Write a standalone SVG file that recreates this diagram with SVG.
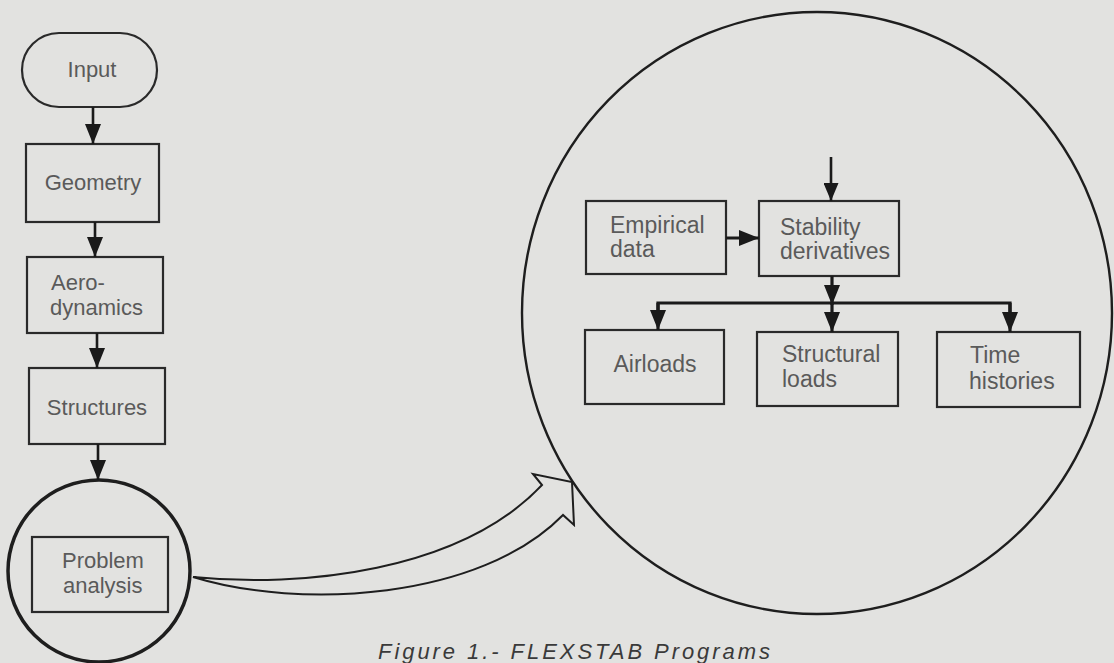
<svg xmlns="http://www.w3.org/2000/svg" width="1114" height="663" viewBox="0 0 1114 663">
<defs>
<marker id="ah" markerWidth="20" markerHeight="16" refX="20" refY="8" orient="auto" markerUnits="userSpaceOnUse"><path d="M0,0 L20,8 L0,16 Z" fill="#1a1a1a"/></marker>
<marker id="ahs" markerWidth="18" markerHeight="15" refX="18" refY="7.5" orient="auto" markerUnits="userSpaceOnUse"><path d="M0,0 L18,7.5 L0,15 Z" fill="#1a1a1a"/></marker>
<style>
.box{fill:none;stroke:#2a2a2a;stroke-width:2.2}
.t{font-family:"Liberation Sans",Arial,sans-serif;font-size:22px;fill:#5a5a5a}
.ti{font-family:"Liberation Sans",Arial,sans-serif;font-size:23px;fill:#5a5a5a}
.c{text-anchor:middle}
.ln{fill:none;stroke:#1a1a1a;stroke-width:2.6}
.lt{fill:none;stroke:#1a1a1a;stroke-width:3.2}
</style>
</defs>
<rect width="1114" height="663" fill="#e2e2e0"/>

<g id="expanded-view">
<ellipse cx="817" cy="313" rx="295" ry="301" fill="none" stroke="#1e1e1e" stroke-width="2.4"/>
</g>

<g id="input"><rect class="box" x="22" y="33" width="135" height="74" rx="37"/><text class="t c" x="92" y="77">Input</text></g>
<g id="geometry"><rect class="box" x="26" y="144" width="133" height="78"/><text class="t c" x="93" y="190">Geometry</text></g>
<g id="aerodynamics"><rect class="box" x="27" y="257" width="136" height="76"/><text class="t" x="51" y="290">Aero-</text><text class="t" x="50" y="315">dynamics</text></g>
<g id="structures"><rect class="box" x="29" y="368" width="136" height="76"/><text class="t c" x="97" y="415">Structures</text></g>
<g id="problem-circle"><circle cx="99" cy="571" r="91" fill="none" stroke="#1e1e1e" stroke-width="3.5"/></g>
<g id="problem-analysis"><rect class="box" x="32" y="537" width="136" height="75"/><text class="t" x="62" y="568">Problem</text><text class="t" x="63" y="593">analysis</text></g>

<g id="empirical"><rect class="box" x="586" y="201" width="140" height="73"/><text class="ti" x="610" y="233">Empirical</text><text class="ti" x="610" y="257">data</text></g>
<g id="stability"><rect class="box" x="759" y="201" width="140" height="75"/><text class="ti" x="780" y="235">Stability</text><text class="ti" x="780" y="259">derivatives</text></g>
<g id="airloads"><rect class="box" x="585" y="330" width="139" height="74"/><text class="ti c" x="655" y="372">Airloads</text></g>
<g id="structural"><rect class="box" x="757" y="332" width="141" height="74"/><text class="ti" x="782" y="362">Structural</text><text class="ti" x="782" y="387">loads</text></g>
<g id="time"><rect class="box" x="937" y="332" width="143" height="75"/><text class="ti" x="970" y="363">Time</text><text class="ti" x="969" y="389">histories</text></g>

<g id="connectors">
<line class="ln" x1="93" y1="107" x2="93" y2="144" marker-end="url(#ah)"/>
<line class="ln" x1="95" y1="222" x2="95" y2="257" marker-end="url(#ah)"/>
<line class="ln" x1="97" y1="333" x2="97" y2="368" marker-end="url(#ah)"/>
<line class="ln" x1="98" y1="444" x2="98" y2="480" marker-end="url(#ah)"/>
<line class="ln" x1="831" y1="157" x2="831" y2="201" stroke-width="1.8" marker-end="url(#ahs)"/>
<line class="lt" x1="726" y1="238" x2="759" y2="238" marker-end="url(#ah)"/>
<line class="lt" x1="832" y1="276" x2="832" y2="305" marker-end="url(#ah)"/>
<line class="lt" x1="832" y1="303" x2="832" y2="332" marker-end="url(#ah)"/>
<polyline class="lt" points="658,312 658,303 1010,303 1010,312"/>
<line class="lt" x1="658" y1="303" x2="658" y2="330" marker-end="url(#ah)"/>
<line class="lt" x1="1010" y1="303" x2="1010" y2="332" marker-end="url(#ah)"/>
<path d="M193,577 C300,588 460,572 542,485 L533,474 L572,482 L574,525 L563,515 C480,600 300,610 193,577 Z" fill="#e2e2e0" stroke="#1e1e1e" stroke-width="2" stroke-linejoin="miter"/>
</g>

<text x="378" y="659" font-family="Liberation Sans,Arial,sans-serif" font-style="italic" font-size="22" fill="#3a3a3a" textLength="392" lengthAdjust="spacing">Figure 1.- FLEXSTAB Programs</text>
</svg>
